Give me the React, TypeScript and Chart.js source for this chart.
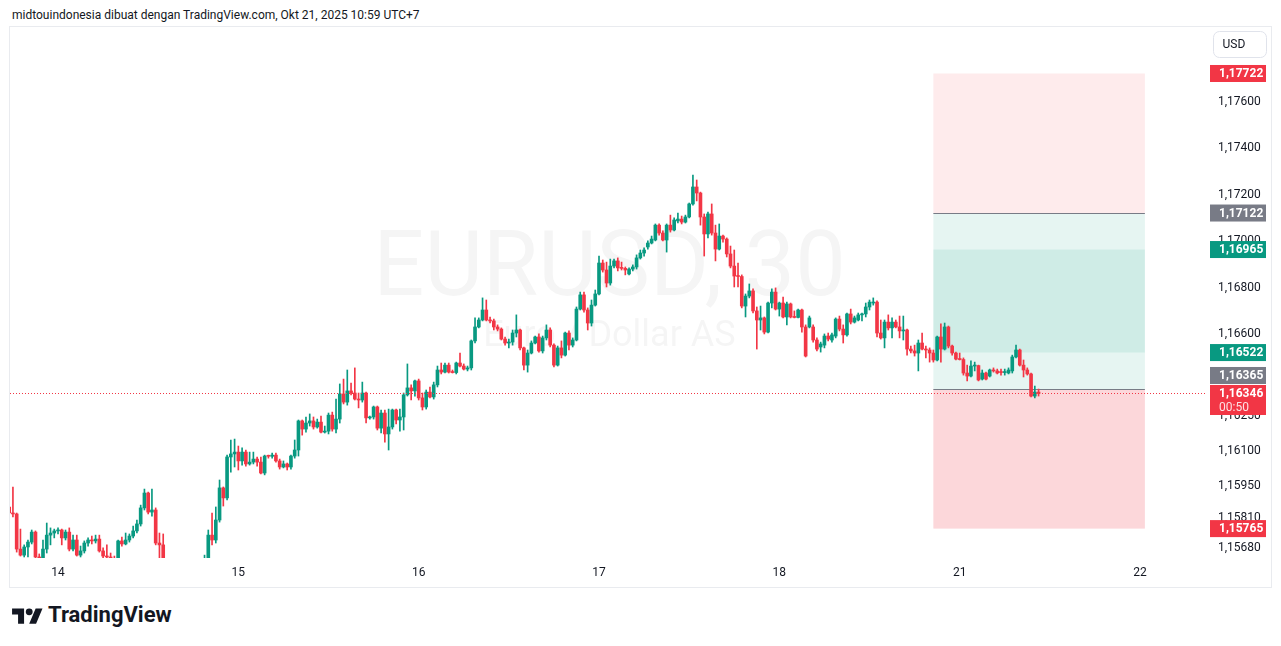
import React, { useEffect, useRef } from "react";
import { Chart, registerables } from "chart.js";

Chart.register(...registerables);

// ---- data: EURUSD 30-minute candles (index 0 = Oct 14 00:00, 48 candles per day) ----
const FIRST_INDEX = -13;

const opens = [
  1.15858, 1.15832, 1.15828, 1.15677, 1.15651, 1.15686, 1.15707, 1.15750, 1.15643, 1.15634,
  1.15677, 1.15737, 1.15746, 1.15755, 1.15759, 1.15725, 1.15750, 1.15677, 1.15716, 1.15651,
  1.15669, 1.15703, 1.15716, 1.15712, 1.15720, 1.15669, 1.15647, 1.15643, 1.15634, 1.15621,
  1.15712, 1.15699, 1.15716, 1.15733, 1.15755, 1.15785, 1.15854, 1.15918, 1.15836, 1.15845,
  1.15703, 1.15695, 1.15608, 1.15553, 1.15510, 1.15531, 1.15479, 1.15458, 1.15492, 1.15523,
  1.15501, 1.15544, 1.15565, 1.15621, 1.15737, 1.15716, 1.15802, 1.15940, 1.15897, 1.16073,
  1.16086, 1.16094, 1.16056, 1.16094, 1.16043, 1.16051, 1.16064, 1.16051, 1.16004, 1.16077,
  1.16076, 1.16081, 1.16056, 1.16030, 1.16043, 1.16030, 1.16077, 1.16103, 1.16228, 1.16193,
  1.16219, 1.16228, 1.16202, 1.16223, 1.16180, 1.16184, 1.16253, 1.16193, 1.16236, 1.16344,
  1.16309, 1.16357, 1.16348, 1.16322, 1.16318, 1.16348, 1.16241, 1.16245, 1.16288, 1.16197,
  1.16262, 1.16172, 1.16202, 1.16275, 1.16232, 1.16245, 1.16340, 1.16370, 1.16357, 1.16400,
  1.16327, 1.16288, 1.16352, 1.16331, 1.16383, 1.16447, 1.16438, 1.16468, 1.16438, 1.16436,
  1.16477, 1.16464, 1.16451, 1.16456, 1.16572, 1.16632, 1.16662, 1.16705, 1.16662, 1.16658,
  1.16632, 1.16623, 1.16580, 1.16563, 1.16567, 1.16606, 1.16619, 1.16542, 1.16468, 1.16520,
  1.16563, 1.16589, 1.16529, 1.16585, 1.16619, 1.16554, 1.16468, 1.16542, 1.16511, 1.16606,
  1.16554, 1.16576, 1.16709, 1.16770, 1.16705, 1.16649, 1.16726, 1.16774, 1.16907, 1.16877,
  1.16821, 1.16894, 1.16916, 1.16886, 1.16884, 1.16860, 1.16881, 1.16890, 1.16929, 1.16950,
  1.16976, 1.16993, 1.17006, 1.17070, 1.17036, 1.17006, 1.17070, 1.17049, 1.17088, 1.17096,
  1.17083, 1.17105, 1.17161, 1.17234, 1.17208, 1.17105, 1.17032, 1.17118, 1.17036, 1.16967,
  1.17023, 1.17010, 1.16946, 1.16894, 1.16851, 1.16849, 1.16722, 1.16765, 1.16787, 1.16701,
  1.16662, 1.16671, 1.16610, 1.16735, 1.16782, 1.16709, 1.16735, 1.16675, 1.16731, 1.16675,
  1.16673, 1.16705, 1.16632, 1.16632, 1.16632, 1.16576, 1.16546, 1.16554, 1.16593, 1.16576,
  1.16593, 1.16666, 1.16623, 1.16598, 1.16688, 1.16653, 1.16662, 1.16684, 1.16688, 1.16718,
  1.16735, 1.16739, 1.16606, 1.16585, 1.16653, 1.16628, 1.16653, 1.16632, 1.16615, 1.16619,
  1.16537, 1.16529, 1.16520, 1.16563, 1.16537, 1.16533, 1.16520, 1.16490, 1.16589, 1.16537,
  1.16632, 1.16550, 1.16520, 1.16494, 1.16492, 1.16434, 1.16421, 1.16464, 1.16466, 1.16408,
  1.16434, 1.16421, 1.16447, 1.16443, 1.16438, 1.16436, 1.16434, 1.16443, 1.16503, 1.16533,
  1.16468, 1.16447, 1.16430, 1.16335, 1.16352,
];

const highs = [
  1.15866, 1.15944, 1.15832, 1.15763, 1.15695, 1.15716, 1.15759, 1.15755, 1.15656, 1.15716,
  1.15789, 1.15768, 1.15763, 1.15768, 1.15763, 1.15759, 1.15768, 1.15737, 1.15737, 1.15690,
  1.15712, 1.15725, 1.15733, 1.15737, 1.15737, 1.15682, 1.15695, 1.15660, 1.15647, 1.15716,
  1.15729, 1.15746, 1.15742, 1.15776, 1.15802, 1.15866, 1.15935, 1.15922, 1.15935, 1.15854,
  1.15746, 1.15742, 1.15617, 1.15565, 1.15544, 1.15540, 1.15501, 1.15501, 1.15531, 1.15544,
  1.15553, 1.15587, 1.15651, 1.15759, 1.15832, 1.15858, 1.15974, 1.15944, 1.16081, 1.16146,
  1.16150, 1.16120, 1.16112, 1.16103, 1.16094, 1.16094, 1.16073, 1.16073, 1.16081, 1.16081,
  1.16090, 1.16090, 1.16064, 1.16056, 1.16047, 1.16081, 1.16146, 1.16232, 1.16232, 1.16245,
  1.16258, 1.16245, 1.16236, 1.16249, 1.16206, 1.16262, 1.16266, 1.16322, 1.16387, 1.16408,
  1.16447, 1.16391, 1.16456, 1.16348, 1.16395, 1.16352, 1.16249, 1.16292, 1.16292, 1.16275,
  1.16275, 1.16279, 1.16279, 1.16279, 1.16279, 1.16348, 1.16473, 1.16383, 1.16404, 1.16408,
  1.16348, 1.16361, 1.16374, 1.16395, 1.16464, 1.16477, 1.16477, 1.16477, 1.16447, 1.16481,
  1.16520, 1.16473, 1.16464, 1.16576, 1.16671, 1.16671, 1.16757, 1.16748, 1.16675, 1.16666,
  1.16641, 1.16628, 1.16589, 1.16580, 1.16619, 1.16684, 1.16623, 1.16546, 1.16533, 1.16572,
  1.16593, 1.16602, 1.16593, 1.16641, 1.16628, 1.16559, 1.16550, 1.16572, 1.16610, 1.16615,
  1.16585, 1.16718, 1.16782, 1.16782, 1.16714, 1.16748, 1.16791, 1.16937, 1.16920, 1.16911,
  1.16924, 1.16924, 1.16929, 1.16911, 1.16890, 1.16886, 1.16899, 1.16942, 1.16963, 1.16972,
  1.17002, 1.17023, 1.17075, 1.17075, 1.17045, 1.17075, 1.17113, 1.17101, 1.17122, 1.17109,
  1.17113, 1.17165, 1.17285, 1.17264, 1.17212, 1.17118, 1.17126, 1.17161, 1.17070, 1.17075,
  1.17027, 1.17015, 1.16980, 1.16963, 1.16907, 1.16856, 1.16774, 1.16817, 1.16796, 1.16718,
  1.16722, 1.16675, 1.16739, 1.16796, 1.16800, 1.16739, 1.16761, 1.16739, 1.16735, 1.16701,
  1.16709, 1.16709, 1.16641, 1.16679, 1.16641, 1.16585, 1.16567, 1.16602, 1.16606, 1.16606,
  1.16671, 1.16679, 1.16641, 1.16692, 1.16709, 1.16679, 1.16692, 1.16692, 1.16735, 1.16748,
  1.16757, 1.16744, 1.16662, 1.16662, 1.16684, 1.16671, 1.16662, 1.16679, 1.16679, 1.16623,
  1.16550, 1.16554, 1.16576, 1.16606, 1.16550, 1.16542, 1.16533, 1.16593, 1.16645, 1.16649,
  1.16636, 1.16554, 1.16524, 1.16520, 1.16499, 1.16468, 1.16486, 1.16481, 1.16468, 1.16447,
  1.16438, 1.16451, 1.16456, 1.16451, 1.16451, 1.16451, 1.16456, 1.16511, 1.16554, 1.16537,
  1.16490, 1.16456, 1.16434, 1.16378, 1.16365,
];

const lows = [
  1.15823, 1.15815, 1.15664, 1.15647, 1.15643, 1.15643, 1.15699, 1.15639, 1.15626, 1.15626,
  1.15660, 1.15695, 1.15725, 1.15742, 1.15695, 1.15716, 1.15669, 1.15669, 1.15647, 1.15643,
  1.15660, 1.15690, 1.15699, 1.15703, 1.15664, 1.15639, 1.15639, 1.15626, 1.15613, 1.15617,
  1.15690, 1.15695, 1.15707, 1.15725, 1.15746, 1.15776, 1.15845, 1.15828, 1.15819, 1.15695,
  1.15639, 1.15587, 1.15535, 1.15492, 1.15484, 1.15467, 1.15437, 1.15445, 1.15475, 1.15484,
  1.15492, 1.15527, 1.15553, 1.15608, 1.15695, 1.15703, 1.15793, 1.15862, 1.15888, 1.16008,
  1.16030, 1.16017, 1.16038, 1.16034, 1.16038, 1.16043, 1.16034, 1.16000, 1.15996, 1.16068,
  1.16068, 1.16051, 1.16021, 1.16026, 1.16017, 1.16021, 1.16068, 1.16077, 1.16167, 1.16180,
  1.16206, 1.16193, 1.16197, 1.16176, 1.16176, 1.16172, 1.16184, 1.16176, 1.16219, 1.16301,
  1.16296, 1.16340, 1.16318, 1.16284, 1.16309, 1.16219, 1.16236, 1.16236, 1.16189, 1.16176,
  1.16137, 1.16103, 1.16193, 1.16215, 1.16184, 1.16189, 1.16335, 1.16318, 1.16335, 1.16318,
  1.16275, 1.16279, 1.16327, 1.16322, 1.16374, 1.16430, 1.16434, 1.16434, 1.16434, 1.16430,
  1.16460, 1.16447, 1.16443, 1.16447, 1.16563, 1.16628, 1.16658, 1.16658, 1.16649, 1.16619,
  1.16615, 1.16576, 1.16554, 1.16542, 1.16554, 1.16589, 1.16533, 1.16447, 1.16438, 1.16516,
  1.16559, 1.16524, 1.16520, 1.16576, 1.16546, 1.16460, 1.16464, 1.16499, 1.16507, 1.16533,
  1.16546, 1.16572, 1.16705, 1.16696, 1.16619, 1.16636, 1.16722, 1.16770, 1.16868, 1.16804,
  1.16812, 1.16886, 1.16873, 1.16877, 1.16856, 1.16856, 1.16873, 1.16881, 1.16924, 1.16937,
  1.16967, 1.16989, 1.17002, 1.17027, 1.17002, 1.16954, 1.17040, 1.17045, 1.17079, 1.17075,
  1.17079, 1.17101, 1.17156, 1.17174, 1.17070, 1.16937, 1.17015, 1.17027, 1.16916, 1.16963,
  1.16997, 1.16933, 1.16886, 1.16804, 1.16804, 1.16714, 1.16675, 1.16757, 1.16692, 1.16537,
  1.16619, 1.16602, 1.16606, 1.16714, 1.16705, 1.16679, 1.16671, 1.16641, 1.16671, 1.16671,
  1.16671, 1.16610, 1.16503, 1.16628, 1.16567, 1.16529, 1.16524, 1.16542, 1.16572, 1.16567,
  1.16585, 1.16615, 1.16563, 1.16593, 1.16645, 1.16649, 1.16658, 1.16658, 1.16675, 1.16705,
  1.16726, 1.16589, 1.16580, 1.16542, 1.16619, 1.16585, 1.16628, 1.16585, 1.16576, 1.16511,
  1.16520, 1.16507, 1.16443, 1.16533, 1.16499, 1.16481, 1.16481, 1.16486, 1.16481, 1.16533,
  1.16542, 1.16511, 1.16490, 1.16490, 1.16425, 1.16400, 1.16417, 1.16443, 1.16400, 1.16404,
  1.16404, 1.16417, 1.16438, 1.16430, 1.16425, 1.16425, 1.16430, 1.16434, 1.16499, 1.16464,
  1.16417, 1.16425, 1.16331, 1.16327, 1.16335,
];

const closes = [
  1.15832, 1.15828, 1.15677, 1.15651, 1.15686, 1.15707, 1.15750, 1.15643, 1.15634, 1.15677,
  1.15737, 1.15746, 1.15755, 1.15759, 1.15725, 1.15750, 1.15677, 1.15716, 1.15651, 1.15669,
  1.15703, 1.15716, 1.15712, 1.15720, 1.15669, 1.15647, 1.15643, 1.15634, 1.15621, 1.15712,
  1.15699, 1.15716, 1.15733, 1.15755, 1.15785, 1.15854, 1.15918, 1.15836, 1.15845, 1.15703,
  1.15695, 1.15608, 1.15553, 1.15510, 1.15531, 1.15479, 1.15458, 1.15492, 1.15523, 1.15501,
  1.15544, 1.15565, 1.15621, 1.15737, 1.15716, 1.15802, 1.15940, 1.15897, 1.16073, 1.16086,
  1.16094, 1.16056, 1.16094, 1.16043, 1.16051, 1.16064, 1.16051, 1.16004, 1.16077, 1.16076,
  1.16081, 1.16056, 1.16030, 1.16043, 1.16030, 1.16077, 1.16103, 1.16228, 1.16193, 1.16219,
  1.16228, 1.16202, 1.16223, 1.16180, 1.16184, 1.16253, 1.16193, 1.16236, 1.16344, 1.16309,
  1.16357, 1.16348, 1.16322, 1.16318, 1.16348, 1.16241, 1.16245, 1.16288, 1.16197, 1.16262,
  1.16172, 1.16202, 1.16275, 1.16232, 1.16245, 1.16340, 1.16370, 1.16357, 1.16400, 1.16327,
  1.16288, 1.16352, 1.16331, 1.16383, 1.16447, 1.16438, 1.16468, 1.16438, 1.16436, 1.16477,
  1.16464, 1.16451, 1.16456, 1.16572, 1.16632, 1.16662, 1.16705, 1.16662, 1.16658, 1.16632,
  1.16623, 1.16580, 1.16563, 1.16567, 1.16606, 1.16619, 1.16542, 1.16468, 1.16520, 1.16563,
  1.16589, 1.16529, 1.16585, 1.16619, 1.16554, 1.16468, 1.16542, 1.16511, 1.16606, 1.16554,
  1.16576, 1.16709, 1.16770, 1.16705, 1.16649, 1.16726, 1.16774, 1.16907, 1.16877, 1.16821,
  1.16894, 1.16916, 1.16886, 1.16884, 1.16877, 1.16881, 1.16890, 1.16929, 1.16950, 1.16963,
  1.16993, 1.17010, 1.17070, 1.17036, 1.17006, 1.17070, 1.17049, 1.17092, 1.17096, 1.17083,
  1.17105, 1.17161, 1.17234, 1.17208, 1.17105, 1.17032, 1.17118, 1.17036, 1.16967, 1.17023,
  1.17010, 1.16946, 1.16894, 1.16851, 1.16849, 1.16722, 1.16765, 1.16787, 1.16701, 1.16662,
  1.16671, 1.16610, 1.16735, 1.16782, 1.16709, 1.16735, 1.16675, 1.16731, 1.16675, 1.16673,
  1.16705, 1.16632, 1.16507, 1.16671, 1.16576, 1.16537, 1.16559, 1.16593, 1.16580, 1.16598,
  1.16666, 1.16623, 1.16598, 1.16688, 1.16653, 1.16671, 1.16684, 1.16688, 1.16718, 1.16739,
  1.16739, 1.16606, 1.16585, 1.16653, 1.16628, 1.16653, 1.16632, 1.16615, 1.16619, 1.16537,
  1.16529, 1.16520, 1.16563, 1.16537, 1.16533, 1.16520, 1.16490, 1.16589, 1.16537, 1.16632,
  1.16550, 1.16520, 1.16494, 1.16492, 1.16434, 1.16421, 1.16464, 1.16466, 1.16404, 1.16434,
  1.16408, 1.16447, 1.16443, 1.16434, 1.16436, 1.16440, 1.16447, 1.16503, 1.16533, 1.16468,
  1.16447, 1.16430, 1.16335, 1.16352, 1.16346,
];

const dayTickIndex = [0, 48, 96, 144, 192, 240, 288];
const dayTickLabels = ["14", "15", "16", "17", "18", "21", "22"];
const priceTicks = [1.176, 1.174, 1.172, 1.17, 1.168, 1.166, 1.1625, 1.161, 1.1595, 1.1581, 1.1568];

const shortPosition = { entry: 1.17122, stop: 1.17722, target: 1.16522 };
const longPosition = { entry: 1.16365, stop: 1.15765, target: 1.16965 };
const positionStartIndex = 233;
const positionEndIndex = 289.3;
const lastPrice = 1.16346;
const countdown = "00:50";
const watermarkSymbol = "EURUSD, 30";
const watermarkName = "Euro / Dollar AS";
const currencyLabel = "USD";
const headerText = "midtouindonesia dibuat dengan TradingView.com, Okt 21, 2025 10:59 UTC+7";

const X_MIN = -12.78;
const X_MAX = 305.3;
const Y_MIN = 1.156386;
const Y_MAX = 1.179219;

const GREEN = "#089981";
const RED = "#F23645";
const GRAY = "#787B86";
const TEXT = "#131722";
const FONT = "Roboto, 'Noto Sans', sans-serif";

const fmt = (v: number) => v.toFixed(5).replace(".", ",");

export default function App() {
  const ref = useRef<HTMLCanvasElement>(null);

  useEffect(() => {
    const canvas = ref.current;
    if (!canvas) return;
    const xs = opens.map((_, k) => FIRST_INDEX + k);
    const colors = opens.map((o, k) => (closes[k] >= o ? GREEN : RED));

    const overlay = {
      id: "tvOverlay",
      beforeDatasetsDraw(chart: any) {
        const { ctx, chartArea: a, scales } = chart;
        const x = scales.x;
        const y = scales.y;
        ctx.save();
        ctx.beginPath();
        ctx.rect(a.left, a.top, a.right - a.left, a.bottom - a.top);
        ctx.clip();
        // watermark
        ctx.fillStyle = "rgba(19,23,34,0.045)";
        ctx.textAlign = "center";
        ctx.textBaseline = "alphabetic";
        const cx = (a.left + a.right) / 2 + 2;
        ctx.font = `90px ${FONT}`;
        ctx.fillText(watermarkSymbol, cx, a.top + 268);
        ctx.font = `36px ${FONT}`;
        ctx.fillText(watermarkName, cx, a.top + 319);
        // position tool bands
        const x0 = x.getPixelForValue(positionStartIndex);
        const x1 = x.getPixelForValue(positionEndIndex);
        const band = (p1: number, p2: number, c: string) => {
          const ya = y.getPixelForValue(p1);
          const yb = y.getPixelForValue(p2);
          ctx.fillStyle = c;
          ctx.fillRect(x0, Math.min(ya, yb), x1 - x0, Math.abs(yb - ya));
        };
        band(shortPosition.stop, shortPosition.entry, "rgba(242,54,69,0.1)");
        band(shortPosition.entry, shortPosition.target, "rgba(8,153,129,0.1)");
        band(longPosition.entry, longPosition.target, "rgba(8,153,129,0.1)");
        band(longPosition.entry, longPosition.stop, "rgba(242,54,69,0.2)");
        ctx.strokeStyle = GRAY;
        ctx.lineWidth = 1;
        for (const p of [shortPosition.entry, longPosition.entry]) {
          const yy = Math.round(y.getPixelForValue(p)) + 0.5;
          ctx.beginPath();
          ctx.moveTo(x0, yy);
          ctx.lineTo(x1, yy);
          ctx.stroke();
        }
        ctx.restore();
      },
      afterDatasetsDraw(chart: any) {
        const { ctx, chartArea: a, scales } = chart;
        const yy = Math.round(scales.y.getPixelForValue(lastPrice)) + 0.5;
        ctx.save();
        ctx.strokeStyle = RED;
        ctx.lineWidth = 1;
        ctx.setLineDash([1, 2]);
        ctx.beginPath();
        ctx.moveTo(a.left, yy);
        ctx.lineTo(a.right, yy);
        ctx.stroke();
        ctx.restore();
      },
      afterDraw(chart: any) {
        const { ctx, chartArea: a, scales } = chart;
        const y = scales.y;
        const boxLeft = a.right + 5;
        const boxW = 56;
        const labels = [
          { value: shortPosition.stop, color: RED, sub: "", fixed: false },
          { value: shortPosition.entry, color: GRAY, sub: "", fixed: false },
          { value: longPosition.target, color: GREEN, sub: "", fixed: false },
          { value: shortPosition.target, color: GREEN, sub: "", fixed: false },
          { value: longPosition.entry, color: GRAY, sub: "", fixed: false },
          { value: lastPrice, color: RED, sub: countdown, fixed: true },
          { value: longPosition.stop, color: RED, sub: "", fixed: false },
        ].map((l) => ({ ...l, top: y.getPixelForValue(l.value) - 8.5, h: l.sub ? 30 : 17 }));
        labels.sort((p, q) => p.top - q.top);
        const fi = labels.findIndex((l) => l.fixed);
        for (let k = fi - 1; k >= 0; k--) {
          const nx = labels[k + 1];
          if (labels[k].top + labels[k].h > nx.top - 1) labels[k].top = nx.top - 1 - labels[k].h;
        }
        for (let k = fi + 1; k < labels.length; k++) {
          const pv = labels[k - 1];
          if (labels[k].top < pv.top + pv.h + 1) labels[k].top = pv.top + pv.h + 1;
        }
        ctx.save();
        for (const l of labels) {
          ctx.fillStyle = l.color;
          ctx.fillRect(boxLeft, l.top, boxW, l.h);
          ctx.fillStyle = "#FFFFFF";
          ctx.textAlign = "left";
          ctx.textBaseline = "middle";
          ctx.font = `bold 12px ${FONT}`;
          ctx.fillText(fmt(l.value), boxLeft + 9, l.top + 9);
          if (l.sub) {
            ctx.font = `12px ${FONT}`;
            ctx.fillStyle = "rgba(255,255,255,0.85)";
            ctx.fillText(l.sub, boxLeft + 9, l.top + 23);
          }
        }
        // currency box
        const ux = a.right + 8.5;
        const uy = 4.5;
        const uw = 53;
        const uh = 26;
        ctx.beginPath();
        ctx.roundRect(ux, uy, uw, uh, 6);
        ctx.fillStyle = "#FFFFFF";
        ctx.fill();
        ctx.strokeStyle = "#E0E3EB";
        ctx.lineWidth = 1;
        ctx.stroke();
        ctx.fillStyle = TEXT;
        ctx.font = `12px ${FONT}`;
        ctx.textAlign = "left";
        ctx.textBaseline = "middle";
        ctx.fillText(currencyLabel, ux + 9, uy + uh / 2);
        ctx.restore();
      },
    };

    const chart = new Chart(canvas, {
      type: "bar",
      data: {
        datasets: [
          {
            data: xs.map((xv, k) => ({ x: xv, y: [lows[k], highs[k]] })) as any,
            backgroundColor: colors,
            barThickness: 1,
            grouped: false,
            borderWidth: 0,
            borderSkipped: false,
            order: 2,
          } as any,
          {
            data: xs.map((xv, k) => ({ x: xv, y: [opens[k], closes[k]] })) as any,
            backgroundColor: colors,
            barThickness: 3,
            minBarLength: 1,
            grouped: false,
            borderWidth: 0,
            borderSkipped: false,
            order: 1,
          } as any,
        ],
      },
      options: {
        animation: false,
        responsive: false,
        devicePixelRatio: 1,
        events: [],
        layout: { padding: 0 },
        plugins: { legend: { display: false }, tooltip: { enabled: false } },
        scales: {
          x: {
            type: "linear",
            min: X_MIN,
            max: X_MAX,
            offset: false,
            bounds: "data",
            grid: { display: false },
            border: { display: false },
            afterBuildTicks: (s: any) => {
              s.ticks = dayTickIndex.map((v) => ({ value: v }));
            },
            afterFit: (s: any) => {
              s.height = 29;
              s.paddingLeft = 0;
              s.paddingRight = 0;
              s.paddingTop = 0;
              s.paddingBottom = 0;
            },
            ticks: {
              autoSkip: false,
              maxRotation: 0,
              padding: 0,
              color: TEXT,
              font: { family: FONT, size: 12 },
              callback: (v: any) => {
                const k = dayTickIndex.indexOf(Number(v));
                return k >= 0 ? dayTickLabels[k] : "";
              },
            },
          },
          y: {
            type: "linear",
            position: "right",
            min: Y_MIN,
            max: Y_MAX,
            beginAtZero: false,
            bounds: "data",
            grid: { display: false },
            border: { display: false },
            afterBuildTicks: (s: any) => {
              s.ticks = priceTicks.map((v) => ({ value: v }));
            },
            afterFit: (s: any) => {
              s.width = 65;
              s.paddingLeft = 0;
              s.paddingRight = 0;
              s.paddingTop = 0;
              s.paddingBottom = 0;
            },
            ticks: {
              padding: 5,
              crossAlign: "near",
              color: TEXT,
              font: { family: FONT, size: 12 },
              callback: (v: any) => fmt(Number(v)),
            },
          },
        },
      } as any,
      plugins: [overlay],
    });
    return () => chart.destroy();
  }, []);

  return (
    <div
      style={{
        position: "fixed",
        left: 0,
        top: 0,
        width: 1281,
        height: 646,
        background: "#FFFFFF",
        overflow: "hidden",
        fontFamily: FONT,
      }}
    >
      <div style={{ position: "absolute", left: 12, top: 7, fontSize: 12, lineHeight: "16px", color: TEXT, whiteSpace: "nowrap" }}>
        {headerText}
      </div>
      <div
        style={{
          position: "absolute",
          left: 9,
          top: 26,
          width: 1261,
          height: 560,
          border: "1px solid #E9EBEF",
        }}
      />
      <canvas ref={ref} width={1260} height={560} style={{ position: "absolute", left: 10, top: 27, width: 1260, height: 560 }} />
      <svg
        width={31}
        height={24}
        viewBox="0 0 36 28"
        style={{ position: "absolute", left: 12, top: 605 }}
      >
        <path d="M14 22H7V11H0V4h14v18zM28 22h-8l7.5-18h8L28 22z" fill={TEXT} />
        <circle cx="20" cy="8" r="4" fill={TEXT} />
      </svg>
      <div
        style={{
          position: "absolute",
          left: 48,
          top: 602,
          fontSize: 22,
          lineHeight: "26px",
          fontWeight: 700,
          color: TEXT,
        }}
      >
        TradingView
      </div>
    </div>
  );
}
